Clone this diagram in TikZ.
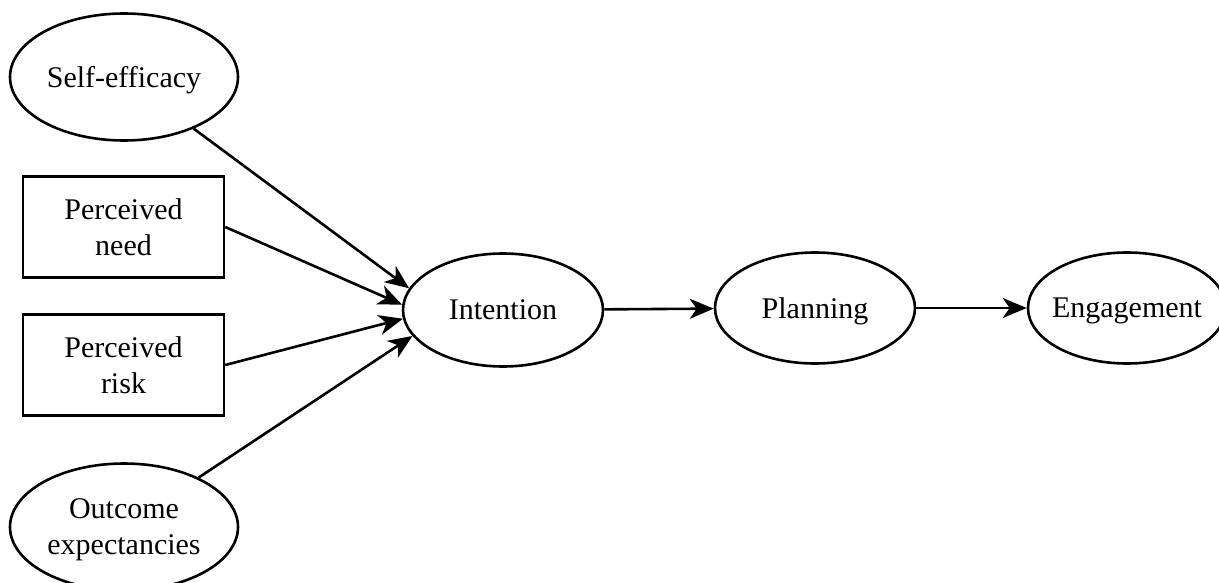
\documentclass[tikz,border=0pt]{standalone}
\usepackage{fontspec}
\setmainfont{Liberation Serif}
\usetikzlibrary{shapes.geometric,arrows.meta}
\begin{document}
\begin{tikzpicture}[x=1pt,y=-1pt,
  every node/.style={font=\fontsize{30}{36}\selectfont, align=center, line width=2.6pt, inner sep=0pt, text depth=0pt},
  oval/.style={draw, ellipse, minimum width=#1, minimum height=112pt},
  oval/.default=200pt,
  box/.style={draw, rectangle, minimum width=201pt, minimum height=101pt},
  link/.style={line width=2.6pt, -{Stealth[length=24pt,width=20pt,inset=7pt]}}]
\clip (0,0) rectangle (1219,583);
\fill[white] (0,0) rectangle (1219,583);
\node[oval=228pt, minimum height=127pt] (se) at (124,77) {Self-efficacy};
\node[box] (pn) at (123.5,227) {Perceived\\need};
\node[box] (pr) at (123.5,365) {Perceived\\risk};
\node[oval=228pt, minimum height=127pt] (oe) at (124,527) {Outcome\\expectancies};
\node[oval=200pt, minimum height=113pt] (in) at (503,310) {Intention};
\node[oval=200pt, minimum height=111pt] (pl) at (815,308) {Planning};
\node[oval=198pt, minimum height=111pt, inner xsep=-30pt] (en) at (1127,308) {Engagement};
\draw[link] (se) -- (in.167);
\draw[link] (pn.east) -- (in.177);
\draw[link] (pr.east) -- (in.185.5);
\draw[link] (oe) -- (in.196);
\draw[link] (in) -- (pl);
\draw[link] (pl) -- (en);
\end{tikzpicture}
\end{document}
